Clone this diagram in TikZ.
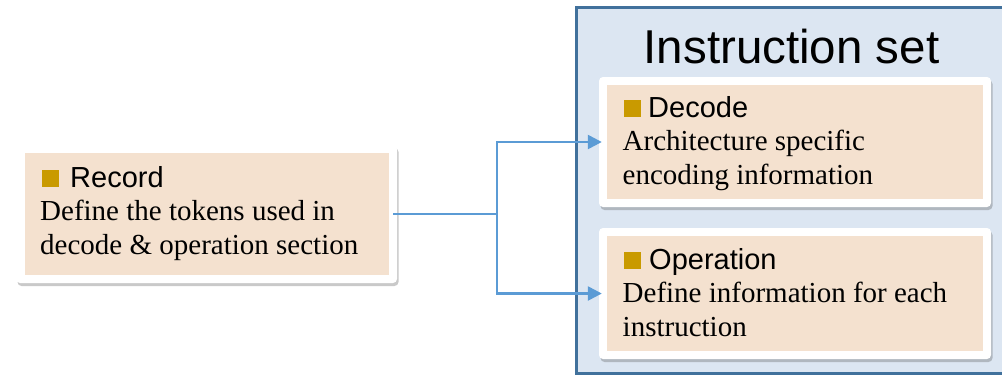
\documentclass[tikz,border=0pt]{standalone}
\usepackage{fontspec}
\setmainfont{Liberation Serif}
\setsansfont{Liberation Sans}
\usetikzlibrary{shadows,arrows.meta}

\definecolor{setfill}{HTML}{DCE6F2}
\definecolor{setedge}{HTML}{41719C}
\definecolor{cardfill}{HTML}{F4E1CF}
\definecolor{bulletgold}{HTML}{C99A00}
\definecolor{linkblue}{HTML}{5B9BD5}

\tikzset{
  setbox/.style={draw=setedge, line width=3pt, fill=setfill, inner sep=0pt,
    minimum width=428pt, minimum height=366pt},
  card/.style={fill=white, rounded corners=4pt, inner sep=0pt,
    drop shadow={shadow xshift=1.5pt, shadow yshift=-3pt, opacity=0.3, fill=black!70}},
  panel/.style={fill=cardfill, inner sep=0pt},
  bulletsq/.style={fill=bulletgold, minimum size=17pt, inner sep=0pt, anchor=south west},
  head/.style={font=\sffamily\fontsize{29}{32}\selectfont, anchor=base west, inner sep=0pt},
  % two-line text: the node's base is the baseline of its last line
  body/.style={font=\fontsize{29}{33.2}\selectfont, anchor=base west, inner sep=0pt, align=left},
  title/.style={font=\sffamily\fontsize{47.5}{50}\selectfont, anchor=base, inner sep=0pt},
  flow/.style={draw=linkblue, line width=2.5pt},
  flowarrow/.style={flow, -{Triangle[length=14pt,width=14pt]}}
}

\begin{document}
\begin{tikzpicture}[x=1pt,y=-1pt]
  \useasboundingbox (0,0) rectangle (1002,376);

  % instruction-set container (its right edge runs off the page)
  \node[setbox] (iset) at (790,190) {};
  \node[title] (isettitle) at (791.5,63) {Instruction set};

  % Record card
  \node[card, minimum width=381pt, minimum height=138pt] (rec) at (206.5,214) {};
  \node[panel, minimum width=364pt, minimum height=122pt] (recpanel) at (rec.center) {};
  \node[bulletsq] (recsq) at (42,187) {};
  \node[head] (rechead) at (70,187) {Record};
  \node[body] (recbody) at (40,254) {Define the tokens used in\\decode \& operation section};

  % Decode card
  \node[card, minimum width=392pt, minimum height=130pt] (dec) at (795,142) {};
  \node[panel, minimum width=376pt, minimum height=114pt] (decpanel) at (dec.center) {};
  \node[bulletsq] (decsq) at (624,117) {};
  \node[head] (dechead) at (648,117) {Decode};
  \node[body] (decbody) at (622.5,184) {Architecture specific\\encoding information};

  % Operation card
  \node[card, minimum width=392pt, minimum height=131pt] (op) at (795,293.5) {};
  \node[panel, minimum width=376pt, minimum height=115pt] (oppanel) at (op.center) {};
  \node[bulletsq] (opsq) at (624,269) {};
  \node[head] (ophead) at (649,269) {Operation};
  \node[body] (opbody) at (622.5,336) {Define information for each\\instruction};

  % connectors
  \coordinate (split) at (497,214);
  \draw[flow] ([xshift=-4pt]rec.east) -- (split);
  \draw[flowarrow] (split) |- ([xshift=3pt]dec.west);
  \draw[flowarrow] (split) |- ([xshift=3pt]op.west);
\end{tikzpicture}
\end{document}
